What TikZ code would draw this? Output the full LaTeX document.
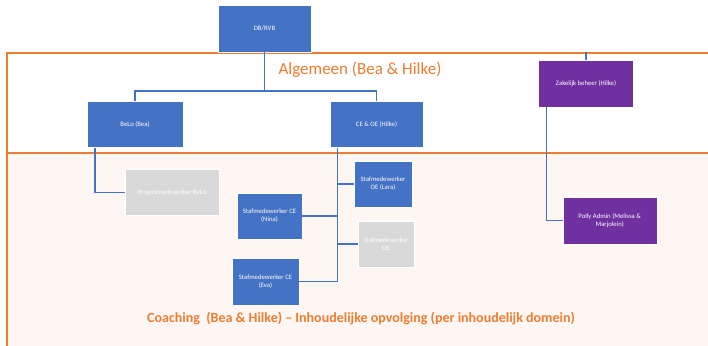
\documentclass[tikz,border=0pt]{standalone}
\usepackage{fontspec}
\setmainfont{Carlito}
\definecolor{officeblue}{HTML}{4472C4}
\definecolor{officepurple}{HTML}{7030A0}
\definecolor{officegrey}{HTML}{D9D9D9}
\definecolor{officeorange}{HTML}{ED7D31}
\definecolor{peach}{HTML}{FDF6F2}
\tikzstyle{box} = [rectangle, minimum width=94pt, minimum height=46pt, inner sep=1pt, align=center, text=white, draw=white, line width=0.4pt, font=\fontsize{6.7}{8}\selectfont]
\tikzstyle{bluebox} = [box, fill=officeblue]
\tikzstyle{purplebox} = [box, fill=officepurple]
\tikzstyle{greybox} = [box, fill=officegrey]
\tikzstyle{conn} = [line width=1.6pt, draw=officeblue]
\tikzstyle{region} = [line width=1.8pt, draw=officeorange]

\begin{document}
\begin{tikzpicture}[x=1pt, y=1pt, node distance=96pt]
        \useasboundingbox (0,0) rectangle (708,-345);
        \clip (0,0) rectangle (708,-345);
        % regions
        \draw [region, fill=peach] (7,-153) rectangle (715,-352);
        \draw [region, fill=white] (7,-53) rectangle (715,-153);
        \node (algemeen) at (360,-70) [text=officeorange, font=\fontsize{17}{20}\selectfont] {Algemeen (Bea \& Hilke)};
        \node (coaching) at (361,-318) [text=officeorange, font=\bfseries\fontsize{14}{16}\selectfont] {Coaching\ \ (Bea \& Hilke) -- Inhoudelijke opvolging (per inhoudelijk domein)};

        \node (dbrvb) at (264.5,-28.5) [bluebox, minimum width=93pt, minimum height=47pt] {DB/RVB};
        \node (belo) [bluebox, below of=dbrvb, xshift=-129.5pt, minimum width=96pt] {BeLo (Bea)};
        \node (ceoe) [bluebox, below of=dbrvb, xshift=112pt, minimum width=93pt] {CE \& OE (Hilke)};
        \node (zakelijk) [purplebox, right of=dbrvb, xshift=225.5pt, yshift=-55pt, minimum width=95pt, minimum height=47pt] {Zakelijk beheer (Hilke)};
        \node (project) [greybox, below of=belo, xshift=37pt, yshift=28pt] {Projectmedewerker BeLo};
        \node (nina) [bluebox, below of=ceoe, xshift=-107pt, yshift=4.5pt, minimum width=65pt] {Stafmedewerker CE\\(Nina)};
        \node (lara) [bluebox, below of=ceoe, xshift=6.5pt, yshift=36.5pt, minimum width=58pt] {Stafmedewerker\\OE (Lara)};
        \node (oe) [greybox, below of=ceoe, xshift=9.5pt, yshift=-23.5pt, minimum width=56pt] {Stafmedewerker\\OE};
        \node (eva) [bluebox, below of=nina, xshift=-4pt, yshift=30.5pt, minimum width=67pt, minimum height=47pt] {Stafmedewerker CE\\(Eva)};
        \node (polly) [purplebox, below of=zakelijk, xshift=23.7pt, yshift=-41pt, minimum height=47pt] {Polly Admin (Melissa \&\\Marjolein)};

        \coordinate (split) at (264.5,-90.7);
        \coordinate (stub) at (586,-52);

        \draw [conn] (dbrvb) -- (split);
        \draw [conn] (split) -| (belo);
        \draw [conn] (split) -| (ceoe);
        \draw [conn] ([xshift=-40pt]belo.south) |- (project);
        \draw [conn] ([xshift=-39pt]ceoe.south) |- (lara);
        \draw [conn] ([xshift=-39pt]ceoe.south) |- (nina);
        \draw [conn] ([xshift=-39pt]ceoe.south) |- (oe);
        \draw [conn] ([xshift=-39pt]ceoe.south) |- (eva);
        \draw [conn] (stub) -- (zakelijk);
        \draw [conn] ([xshift=-39.5pt]zakelijk.south) |- (polly);
    \end{tikzpicture}
\end{document}
